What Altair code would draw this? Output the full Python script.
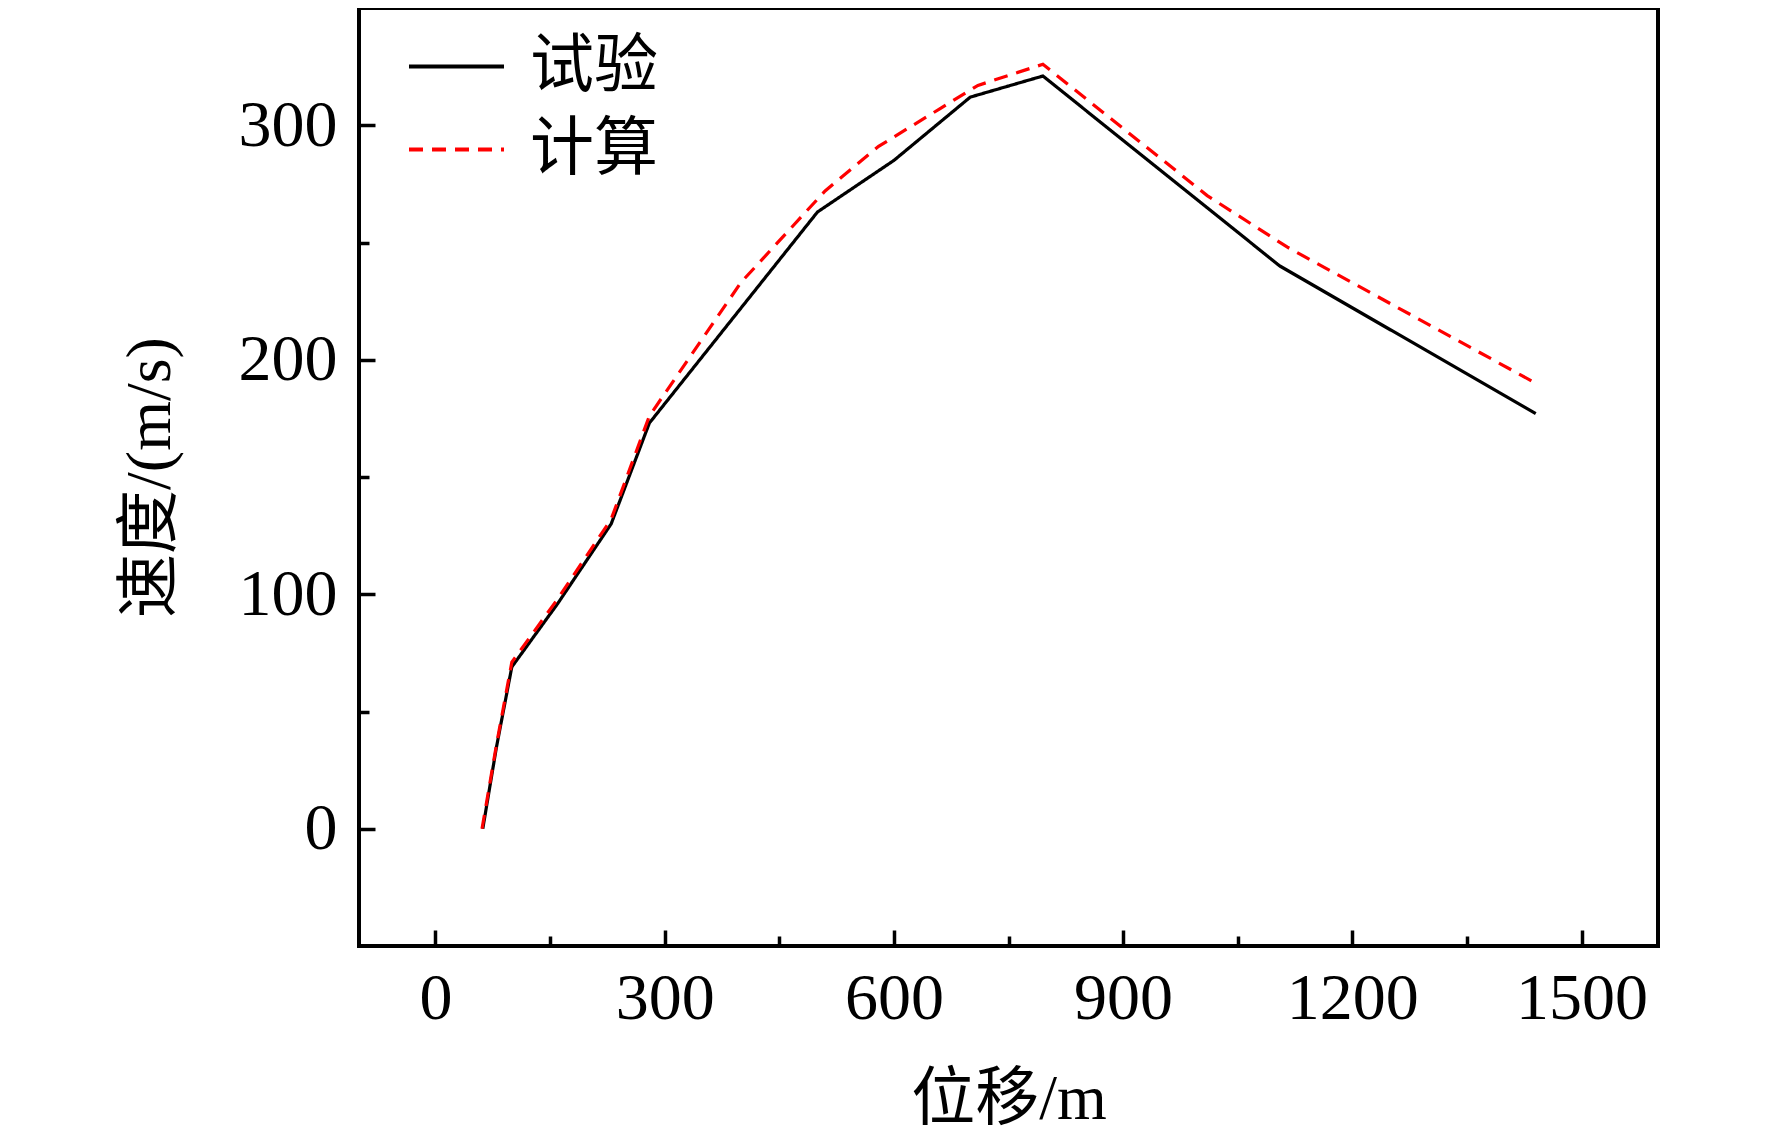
import altair as alt
import pandas as pd

# ---- data ----
series_names = ["试验", "计算"]
test_x = [62, 80, 100, 160, 230, 280, 500, 600, 700, 795, 1105, 1440]
test_y = [0, 35, 69, 96, 130, 173, 263, 285, 312, 321, 240, 177]
calc_x = [61, 80, 100, 160, 230, 280, 400, 510, 580, 660, 710, 795, 1010, 1115, 1440]
calc_y = [0, 36, 71, 98, 132, 176, 233, 272, 291, 307, 317, 326, 270, 248, 190]

x_major = [0, 300, 600, 900, 1200, 1500]
x_minor = [150, 450, 750, 1050, 1350]
y_major = [0, 100, 200, 300]
y_minor = [50, 150, 250]

rows = []
for xv, yv in zip(test_x, test_y):
    rows.append({"series": series_names[0], "x": xv, "y": yv})
for xv, yv in zip(calc_x, calc_y):
    rows.append({"series": series_names[1], "x": xv, "y": yv})
df = pd.DataFrame(rows)

FONT = "Liberation Serif, Times New Roman, Noto Sans CJK SC"
W, H = 1299, 938
MAJ, MIN = 16, 10

xscale = alt.Scale(domain=[-100, 1600], nice=False, zero=False)
yscale = alt.Scale(domain=[-50, 350], nice=False, zero=False)

leg = alt.Legend(title=None, orient="none", legendX=48, legendY=17,
                 symbolType="stroke", symbolSize=9025,
                 symbolStrokeWidth=4, padding=0,
                 labelFont=FONT, labelFontSize=64, labelColor="black",
                 labelOffset=24, rowPadding=0, clipHeight=83)

main = alt.Chart(df).mark_line(strokeWidth=3.2, clip=True).encode(
    x=alt.X("x:Q", scale=xscale,
            axis=alt.Axis(values=x_major, format="d", orient="bottom", offset=-MAJ, tickSize=MAJ,
                          domain=False, grid=False, tickWidth=3.5, tickColor="black",
                          labelFont=FONT, labelFontSize=66, labelColor="black",
                          labelPadding=20, labelFlush=False,
                          title="位移/m", titleFont=FONT, titleFontSize=64,
                          titleFontWeight="normal", titleColor="black",
                          titleBaseline="middle", titleY=169)),
    y=alt.Y("y:Q", scale=yscale,
            axis=alt.Axis(values=y_major, format="d", orient="left", offset=-MAJ, tickSize=MAJ,
                          domain=False, grid=False, tickWidth=3.5, tickColor="black",
                          labelFont=FONT, labelFontSize=66, labelColor="black",
                          labelPadding=22, labelFlush=False,
                          title="速度/(m/s)", titleFont=FONT, titleFontSize=64,
                          titleFontWeight="normal", titleColor="black",
                          titleBaseline="middle", titleX=-225)),
    color=alt.Color("series:N",
                    scale=alt.Scale(domain=series_names, range=["#000000", "#ff0000"]),
                    legend=leg),
    strokeDash=alt.StrokeDash("series:N",
                              scale=alt.Scale(domain=series_names, range=[[1, 0], [14, 9]]),
                              legend=leg),
)

minor = alt.Chart(df).mark_line(opacity=0).encode(
    x=alt.X("x:Q", scale=xscale,
            axis=alt.Axis(values=x_minor, orient="bottom", offset=-MIN, tickSize=MIN,
                          domain=False, grid=False, labels=False, tickWidth=3.5,
                          tickColor="black", title=None)),
    y=alt.Y("y:Q", scale=yscale,
            axis=alt.Axis(values=y_minor, orient="left", offset=-MIN, tickSize=MIN,
                          domain=False, grid=False, labels=False, tickWidth=3.5,
                          tickColor="black", title=None)),
)

chart = alt.layer(main, minor).resolve_axis(x="independent", y="independent").properties(
    width=W, height=H,
    autosize=alt.AutoSizeParams(type="none"),
    padding={"left": 351, "top": 0, "right": 106, "bottom": 189},
    background="white",
).configure_view(stroke="black", strokeWidth=4)

chart.save("out.html", embed_options={"renderer": "svg", "actions": False})
